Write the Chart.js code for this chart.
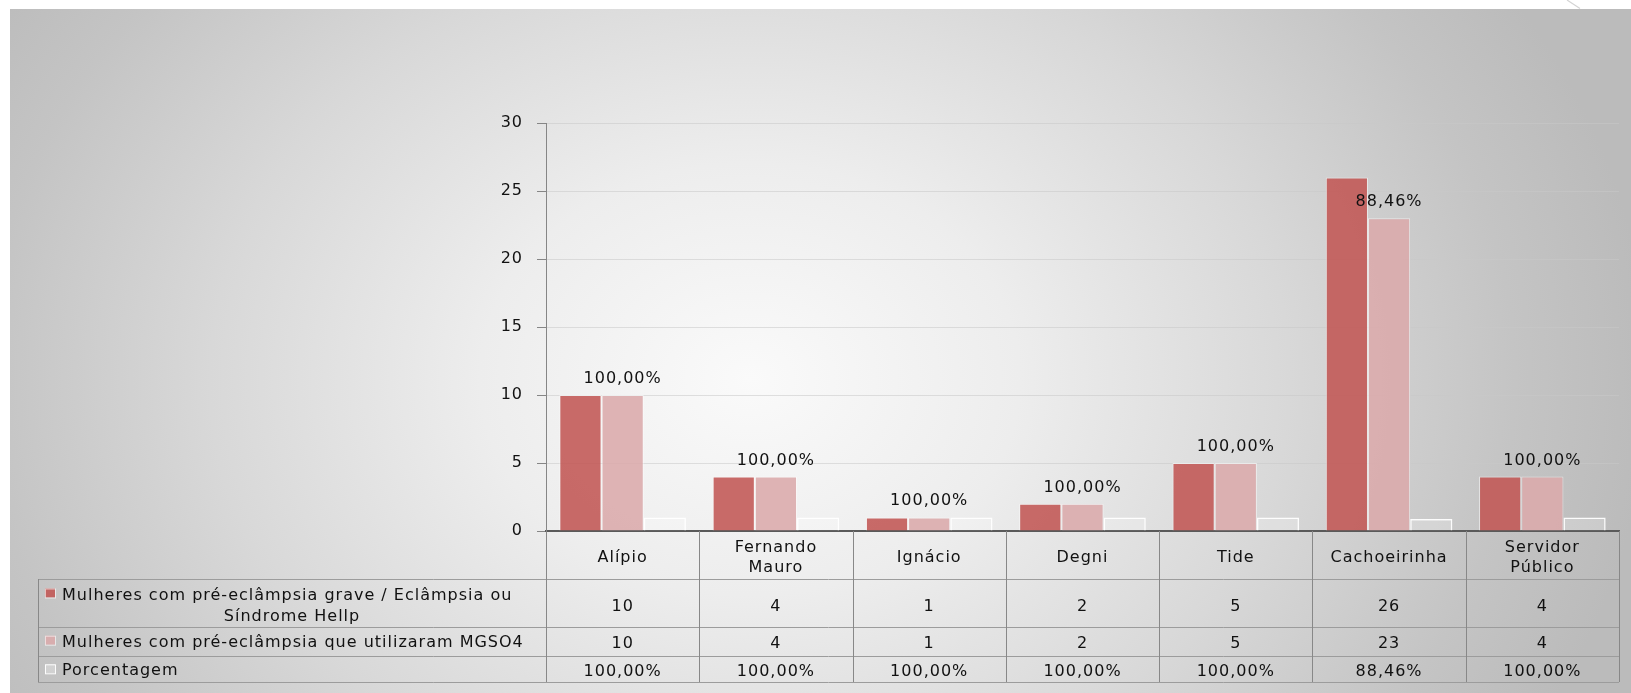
<!DOCTYPE html>
<html>
<head>
<meta charset="utf-8">
<script src="https://cdn.jsdelivr.net/npm/chart.js@4/dist/chart.umd.min.js"></script>
<style>
html, body { margin:0; padding:0; background:#ffffff; width:1631px; height:693px; overflow:hidden; }
#bg { position:absolute; left:10px; top:9px; width:1621px; height:684px;
  background: radial-gradient(ellipse 900px 720px at 740px 370px, #fafafa 0%, #ededed 30%, #d8d8d8 60%, #c4c4c4 85%, #bbbbbb 100%); }
#wrap { position:absolute; left:0; top:0; width:1631px; height:693px; }
</style>
</head>
<body>
<div id="bg"></div>
<div id="wrap"><canvas id="c"></canvas></div>
<script>
// ---- data ----
const categories = [['Alípio'], ['Fernando', 'Mauro'], ['Ignácio'], ['Degni'], ['Tide'], ['Cachoeirinha'], ['Servidor', 'Público']];
const seriesNames = [
  ['Mulheres com pré-eclâmpsia grave / Eclâmpsia ou', 'Síndrome Hellp'],
  ['Mulheres com pré-eclâmpsia que utilizaram MGSO4'],
  ['Porcentagem']
];
const severeCases = [10, 4, 1, 2, 5, 26, 4];
const mgso4Cases = [10, 4, 1, 2, 5, 23, 4];
const percentage = [1, 1, 1, 1, 1, 0.8846, 1];
const yTicks = [0, 5, 10, 15, 20, 25, 30];

const fmtPct = v => (v * 100).toFixed(2).replace('.', ',') + '%';

const FONT = '16px "DejaVu Sans"';
const TEXT = '#111111';
const C1 = 'rgba(193,86,84,0.88)';
const C2 = 'rgba(219,170,171,0.88)';

const spacingPlugin = {
  id: 'spacing',
  beforeUpdate(chart) { chart.ctx.letterSpacing = '1px'; },
  beforeDraw(chart) {
    const ctx = chart.ctx;
    ctx.letterSpacing = '1px';
    // decorative thin line at top-right
    ctx.save();
    ctx.strokeStyle = '#d4d4d4';
    ctx.lineWidth = 1.2;
    ctx.beginPath();
    ctx.moveTo(1567, 0);
    ctx.lineTo(1580, 8.5);
    ctx.stroke();
    ctx.restore();
  }
};

const labelPlugin = {
  id: 'pctLabels',
  afterDatasetsDraw(chart) {
    const ctx = chart.ctx;
    const meta = chart.getDatasetMeta(1);
    ctx.save();
    ctx.letterSpacing = '1px';
    ctx.font = FONT;
    ctx.fillStyle = TEXT;
    ctx.textAlign = 'center';
    ctx.textBaseline = 'alphabetic';
    meta.data.forEach((el, i) => {
      ctx.fillText(fmtPct(percentage[i]), el.x, el.y - 12);
    });
    ctx.restore();
  }
};

const tablePlugin = {
  id: 'dataTable',
  afterDraw(chart) {
    const ctx = chart.ctx;
    const xs = chart.scales.x;
    const area = chart.chartArea;
    const B = area.bottom;
    const L = area.left, R = area.right;
    const tableLeft = 38;
    const yHead = B + 48, y1 = B + 96, y2 = B + 124.5, y3 = B + 151;
    const n = categories.length;
    const w = (R - L) / n;
    const px = v => Math.round(v) + 0.5;

    ctx.save();
    ctx.letterSpacing = '1px';
    // horizontal lines
    ctx.strokeStyle = '#9c9c9c';
    ctx.lineWidth = 1;
    [yHead, y1, y2, y3].forEach(y => {
      ctx.beginPath(); ctx.moveTo(tableLeft, px(y)); ctx.lineTo(R, px(y)); ctx.stroke();
    });
    // vertical lines
    ctx.strokeStyle = '#888888';
    for (let i = 0; i <= n; i++) {
      const x = px(L + i * w);
      ctx.beginPath(); ctx.moveTo(x, B); ctx.lineTo(x, y3); ctx.stroke();
    }
    ctx.beginPath(); ctx.moveTo(px(tableLeft), yHead); ctx.lineTo(px(tableLeft), y3); ctx.stroke();

    ctx.font = FONT;
    ctx.fillStyle = TEXT;
    ctx.textAlign = 'center';
    ctx.textBaseline = 'alphabetic';
    // header: categories
    categories.forEach((lines, i) => {
      const cx = xs.getPixelForValue(i);
      if (lines.length === 1) {
        ctx.fillText(lines[0], cx, B + 31);
      } else {
        ctx.fillText(lines[0], cx, B + 21);
        ctx.fillText(lines[1], cx, B + 41);
      }
    });
    // values
    const rows = [
      { vals: severeCases.map(String), base: B + 80 },
      { vals: mgso4Cases.map(String), base: B + 117 },
      { vals: percentage.map(fmtPct), base: B + 144.5 }
    ];
    rows.forEach(r => {
      r.vals.forEach((t, i) => ctx.fillText(t, xs.getPixelForValue(i), r.base));
    });
    // legend column
    const legendCenter = (tableLeft + L) / 2;
    const keyColors = [C1, C2, 'rgba(255,255,255,0.25)'];
    const keyStroke = ['rgba(255,255,255,0.6)', 'rgba(255,255,255,0.6)', 'rgba(255,255,255,0.95)'];
    const firstBase = [B + 68.5, B + 115.7, B + 144.3];
    seriesNames.forEach((lines, s) => {
      const base = firstBase[s];
      ctx.fillStyle = keyColors[s];
      ctx.fillRect(45, base - 11, 10, 9);
      ctx.strokeStyle = keyStroke[s];
      ctx.lineWidth = 1;
      ctx.strokeRect(45.5, base - 10.5, 10, 9);
      ctx.fillStyle = TEXT;
      ctx.textAlign = 'left';
      ctx.fillText(lines[0], 62, base);
      if (lines.length > 1) {
        ctx.textAlign = 'center';
        ctx.fillText(lines[1], legendCenter, base + 21.5);
      }
    });
    ctx.restore();
  }
};

Chart.defaults.font.family = '"DejaVu Sans"';
Chart.defaults.font.size = 16;
Chart.defaults.color = TEXT;

new Chart(document.getElementById('c'), {
  type: 'bar',
  data: {
    labels: categories.map(l => l.join(' ')),
    datasets: [
      { label: seriesNames[0].join(' '), data: severeCases, backgroundColor: C1,
        borderColor: 'rgba(255,255,255,0.55)', borderWidth: 1 },
      { label: seriesNames[1].join(' '), data: mgso4Cases, backgroundColor: C2,
        borderColor: 'rgba(255,255,255,0.55)', borderWidth: 1 },
      { label: seriesNames[2].join(' '), data: percentage, backgroundColor: 'rgba(255,255,255,0.22)',
        borderColor: 'rgba(255,255,255,0.95)', borderWidth: 1.5 }
    ]
  },
  options: {
    responsive: true,
    maintainAspectRatio: false,
    animation: false,
    devicePixelRatio: 1,
    layout: { padding: { top: 123, right: 12, bottom: 162, left: 0 } },
    datasets: { bar: { categoryPercentage: 0.826, barPercentage: 1.0 } },
    plugins: { legend: { display: false }, tooltip: { enabled: false } },
    scales: {
      x: {
        grid: { display: false, drawTicks: false },
        border: { display: true, color: '#5a5a5a', width: 2 },
        ticks: { display: false },
        afterFit: s => { s.height = 0; }
      },
      y: {
        min: 0, max: 30,
        afterBuildTicks: s => { s.ticks = yTicks.map(v => ({ value: v })); },
        afterFit: s => { s.width = 546; },
        grid: { color: 'rgba(200,200,200,0.55)', tickColor: '#868686', tickLength: 9, drawTicks: true },
        border: { display: true, color: '#868686', width: 1 },
        ticks: { padding: 14, color: TEXT, font: { size: 16 } }
      }
    }
  },
  plugins: [spacingPlugin, labelPlugin, tablePlugin]
});
</script>
</body>
</html>
